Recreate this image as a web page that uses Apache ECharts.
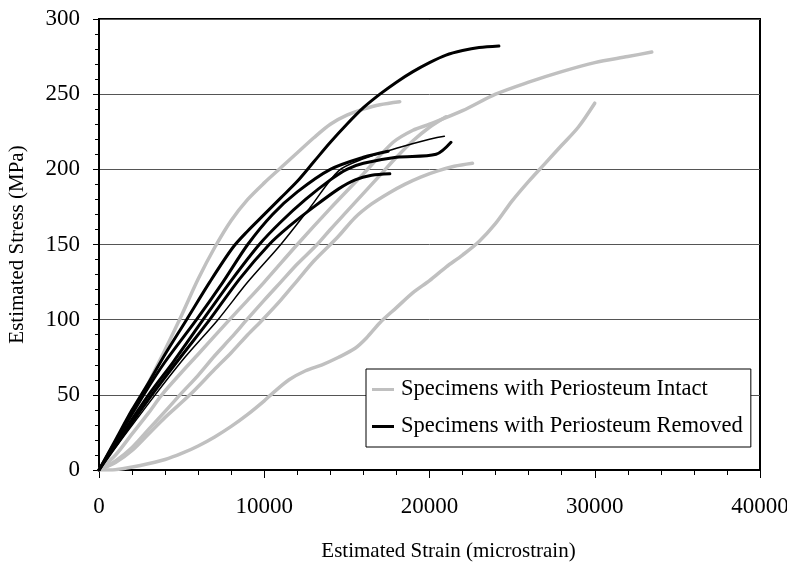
<!DOCTYPE html>
<html>
<head>
<meta charset="utf-8">
<script src="https://cdn.jsdelivr.net/npm/echarts@6/dist/echarts.min.js"></script>
<style>
  html, body { margin: 0; padding: 0; background: #fff; }
  #chart { width: 787px; height: 562px; }
</style>
</head>
<body>
<div id="chart"></div>
<script>
// Stress–strain records, [strain (microstrain), stress (MPa)]
// Specimens with periosteum intact
const intactA = [[0,0],[1000,16],[2000,36],[3000,58],[4000,80],[5000,103],[6000,127],[7000,148],[8000,166],[9000,180],[10000,191],[11000,201],[12000,211],[13000,221],[14000,230],[15000,236],[16000,240],[17000,243],[18200,245]];
const intactB = [[0,0],[1000,5],[2000,13],[3000,24],[4000,35],[5500,50],[7000,67],[8000,78],[9000,90],[9900,100],[11000,113],[12000,126],[13000,139],[14450,155],[15500,168],[16500,177],[17500,184],[18500,190],[19500,195],[20500,199],[21500,202],[22600,204]];
const intactC = [[0,0],[1000,10],[2000,24],[3000,38],[3800,50],[5000,65],[6000,77],[7900,100],[9000,113],[10000,125],[12000,150],[14000,174],[16000,197],[17800,218],[19000,226],[20000,230],[22000,239],[24000,250],[26000,258],[28000,265],[30000,271],[32000,275],[33450,278]];
const intactD = [[0,0],[700,0],[1500,1],[2500,3],[4000,7],[5000,11],[6000,16],[7000,22],[8000,29],[9000,37],[10000,46],[10500,51],[11500,60],[12500,66],[13500,70],[14500,75],[15500,81],[16200,88],[17000,98],[18000,108],[19000,118],[20000,126],[21000,135],[22000,143],[23000,152],[24000,164],[25000,179],[26000,192],[27000,204],[28000,216],[29000,228],[30000,244]];
const intactE = [[0,0],[1000,6],[2000,15],[3000,27],[4000,39],[4900,50],[6000,63],[7000,76],[8000,88],[8950,100],[10000,113],[11000,125],[12000,137],[13200,150],[14000,160],[15000,172],[16000,184],[17000,196],[18000,208],[19000,219],[20000,228],[21000,235]];

// Specimens with periosteum removed
const removedA = [[0,0],[1000,20],[2000,40],[3000,58],[4000,77],[5300,100],[6700,125],[8100,148],[9000,159],[10000,170],[11000,181],[12000,192],[13000,205],[14000,218],[15000,230],[16000,241],[17000,250],[18000,258],[19000,265],[20000,271],[21000,276],[22000,279],[23000,281],[24200,282]];
const removedB = [[0,0],[1000,15],[3400,50],[5200,75],[7200,100],[9000,125],[11000,150],[12800,175],[14500,199],[16000,207],[18000,214],[20000,220],[20900,222]];
const removedC = [[0,0],[1000,17],[3000,50],[4500,72],[6300,100],[8000,126],[9700,150],[11000,165],[12500,180],[14000,193],[15000,200],[16000,204],[18000,208],[20400,210],[21300,218]];
const removedD = [[0,0],[1000,16],[3200,50],[5000,76],[6700,100],[8500,127],[10300,150],[11500,162],[13000,175],[14500,187],[15500,193],[16500,196],[17600,197]];
const removedE = [[0,0],[1000,19],[2700,50],[4000,72],[5900,100],[7500,125],[9000,150],[10500,170],[12000,185],[14000,200],[16000,208],[17500,212]];

const intactName = 'Specimens with Periosteum Intact';
const removedName = 'Specimens with Periosteum Removed';
const intactSets = [intactA, intactB, intactC, intactD, intactE];
const removedSets = [removedA, removedB, removedC, removedD, removedE];
const removedWidths = [3, 1.5, 3, 3, 3];

const FONT = '"Liberation Serif", "Times New Roman", serif';
const GRAY = '#c0c0c0';

const series = [];
intactSets.forEach(function (d) {
  series.push({
    name: intactName, type: 'line', data: d, showSymbol: false, smooth: 0.3,
    lineStyle: { color: GRAY, width: 3.5, join: 'round', cap: 'round' },
    itemStyle: { color: GRAY }, z: 2, silent: true
  });
});
removedSets.forEach(function (d, i) {
  series.push({
    name: removedName, type: 'line', data: d, showSymbol: false, smooth: 0.3,
    lineStyle: { color: '#000', width: removedWidths[i], join: 'round', cap: 'round' },
    itemStyle: { color: '#000' }, z: 3, silent: true
  });
});

const chart = echarts.init(document.getElementById('chart'), null, { renderer: 'canvas' });
chart.setOption({
  animation: false,
  backgroundColor: '#fff',
  grid: {
    left: 99, right: 27, top: 19, bottom: 92,
    containLabel: false, outerBoundsMode: 'none',
    show: true, borderColor: '#000', borderWidth: 2, backgroundColor: 'transparent'
  },
  xAxis: {
    type: 'value', min: 0, max: 40000, interval: 10000,
    name: 'Estimated Strain (microstrain)', nameLocation: 'middle', nameGap: 71,
    nameTextStyle: { fontFamily: FONT, fontSize: 21, color: '#000', padding: [0, 0, 0, 38] },
    axisLine: { show: true, onZero: false, lineStyle: { color: '#000', width: 2 } },
    axisTick: { show: true, inside: false, length: 8, lineStyle: { color: '#000', width: 1 } },
    minorTick: { show: true, splitNumber: 5, length: 5, lineStyle: { color: '#000', width: 1 } },
    axisLabel: { fontFamily: FONT, fontSize: 23, color: '#000', margin: 25,
      formatter: function (v) { return String(v); } },
    splitLine: { show: false }
  },
  yAxis: {
    type: 'value', min: 0, max: 300, interval: 50,
    name: 'Estimated Stress (MPa)', nameLocation: 'middle', nameGap: 71, nameRotate: 90,
    nameTextStyle: { fontFamily: FONT, fontSize: 21, color: '#000' },
    axisLine: { show: true, lineStyle: { color: '#000', width: 2 } },
    axisTick: { show: true, inside: false, length: 6, lineStyle: { color: '#000', width: 1 } },
    minorTick: { show: true, splitNumber: 5, length: 4, lineStyle: { color: '#000', width: 1 } },
    axisLabel: { fontFamily: FONT, fontSize: 23, color: '#000', margin: 19,
      formatter: function (v) { return String(v); } },
    splitLine: { show: true, lineStyle: { color: '#555', width: 1 } }
  },
  legend: {
    orient: 'vertical', left: 366, top: 369,
    backgroundColor: '#fff', borderColor: '#000', borderWidth: 1,
    padding: [9, 8, 9, 6],
    itemWidth: 22, itemHeight: 3, itemGap: 14,
    textStyle: { fontFamily: FONT, fontSize: 22.5, color: '#000', padding: [0, 0, 0, 2] },
    data: [
      { name: intactName, icon: 'rect', itemStyle: { color: GRAY } },
      { name: removedName, icon: 'rect', itemStyle: { color: '#000' } }
    ],
    selectedMode: false
  },
  series: series
});
</script>
</body>
</html>
